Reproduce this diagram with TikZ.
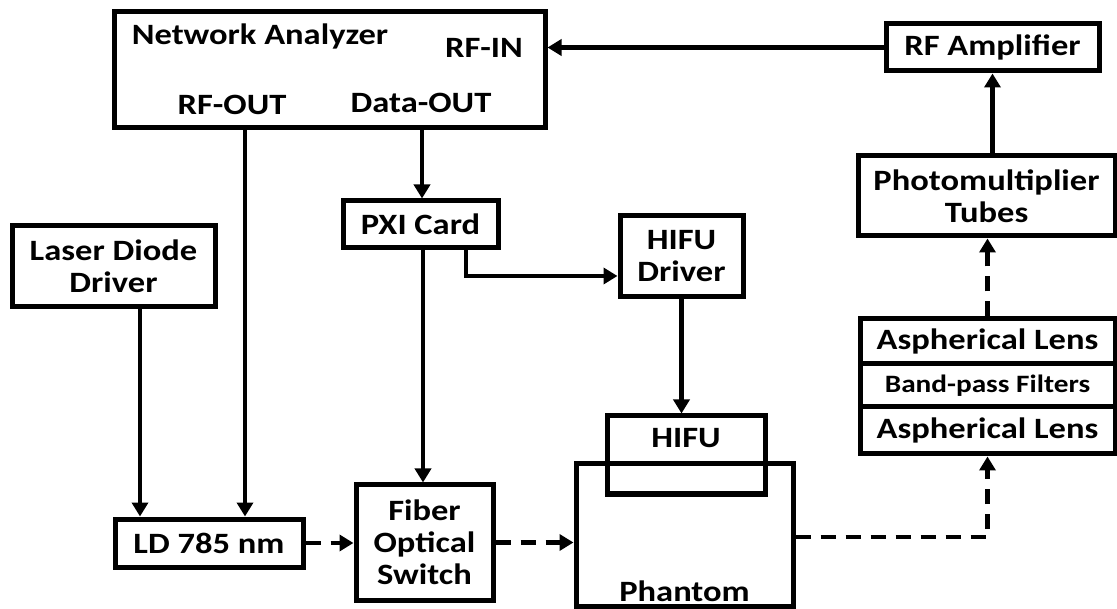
\documentclass[tikz,border=0pt]{standalone}
\usepackage{fontspec}
\setmainfont{Carlito}[FakeStretch=1.17]
\usetikzlibrary{arrows.meta}
\begin{document}
\begin{tikzpicture}[x=1pt,y=-1pt,
  box/.style={draw, line width=5pt, rectangle, inner sep=0pt, align=center,
    font=\fontsize{29.5}{32}\selectfont\bfseries},
  lbl/.style={inner sep=0pt, font=\fontsize{29.5}{32}\selectfont\bfseries},
  arr/.style={line width=4.8pt, -{Triangle[length=14pt,width=16pt]}},
  darr/.style={arr, dash pattern=on 15pt off 10pt}]
\useasboundingbox (0,0) rectangle (1117,609);
% boxes
\node[box, minimum width=431pt, minimum height=116pt] (NA) at (329.5,70) {};
\node[lbl] (naT) at (260,36) {Network Analyzer};
\node[lbl] (rfin) at (484,48) {RF-IN};
\node[lbl] (rfout) at (232,105) {RF-OUT};
\node[lbl] (dout) at (421,103) {Data-OUT};
\node[box, minimum width=213pt, minimum height=47pt] (RFA) at (992.5,47.5) {RF Amplifier};
\node[box, minimum width=257pt, minimum height=80pt] (PMT) at (986.5,196) {Photomultiplier\\Tubes};
\node[box, minimum width=203pt, minimum height=81pt] (LDD) at (113.5,266.5) {Laser Diode\\Driver};
\node[box, minimum width=188pt, minimum height=48pt] (LD) at (209,543) {LD 785 nm};
\node[box, minimum width=155pt, minimum height=47pt] (PXI) at (420.5,224.5) {PXI Card};
\node[box, minimum width=123pt, minimum height=81pt] (HD) at (681.5,256.5) {HIFU\\Driver};
\node[box, minimum width=137pt, minimum height=115pt] (FOS) at (424.5,542.5) {Fiber\\Optical\\Switch};
\node[box, minimum width=217pt, minimum height=142pt] (PH) at (684.5,535) {};
\node[lbl] (phT) at (684.5,591) {Phantom};
\node[box, minimum width=158pt, minimum height=78pt] (HIFU) at (686,455) {};
\node[lbl] (hifuT) at (686,438) {HIFU};
\node[box, minimum width=255pt, minimum height=45pt] (L1) at (987.5,341.5) {Aspherical Lens};
\node[box, minimum width=255pt, minimum height=43pt, font=\fontsize{25}{28}\selectfont\bfseries] (L2) at (987.5,385.5) {Band-pass Filters};
\node[box, minimum width=255pt, minimum height=47pt] (L3) at (987.5,430.5) {Aspherical Lens};
% connectors
\draw[arr] (RFA.west) -- (RFA.west -| NA.east);
\draw[arr] (RFA.south |- PMT.north) -- (RFA.south);
\draw[arr] ([xshift=-84.5pt]NA.south) -- ([xshift=-84.5pt]NA.south |- LD.north);
\draw[arr] ([xshift=92.5pt]NA.south) -- ([xshift=92.5pt]NA.south |- PXI.north);
\draw[arr] ([xshift=2.5pt]PXI.south) -- ([xshift=2.5pt]PXI.south |- FOS.north);
\draw[arr] ([xshift=45.5pt]PXI.south) |- ([yshift=-19.5pt]HD.west);
\draw[arr] (HD.south) -- (HD.south |- HIFU.north);
\draw[arr] ([xshift=26.5pt]LDD.south) -- ([xshift=26.5pt]LDD.south |- LD.north);
\draw[darr] (LD.east) -- (LD.east -| FOS.west);
\draw[darr] (FOS.east) -- (FOS.east -| PH.west);
\draw[darr] ([yshift=-2pt]PH.east) -| (L3.south);
\draw[darr] (L1.north) -- (L1.north |- PMT.south);
\end{tikzpicture}
\end{document}
